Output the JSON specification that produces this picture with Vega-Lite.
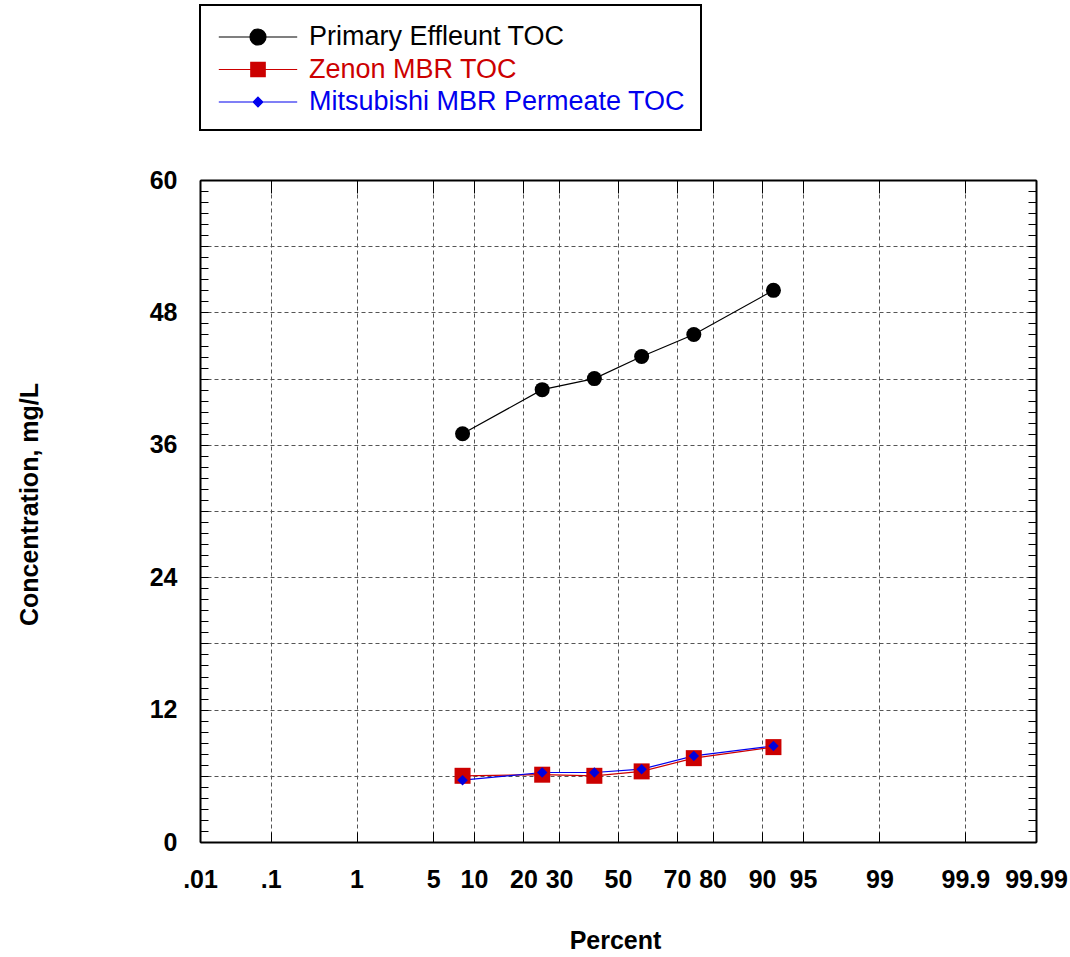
{
  "$schema": "https://vega.github.io/schema/vega-lite/v6.json",
  "width": 836,
  "height": 662,
  "autosize": {"type": "none"},
  "padding": {"left": 200, "top": 180, "right": 34, "bottom": 115},
  "background": "white",
  "config": {
    "font": "Liberation Sans",
    "view": {"stroke": null},
    "axis": {
      "domainColor": "black",
      "domainWidth": 2,
      "tickColor": "black",
      "tickWidth": 1,
      "labelColor": "black",
      "titleColor": "black",
      "gridColor": "#555555",
      "gridDash": [4, 3],
      "gridWidth": 1
    }
  },
  "data": {
    "values": [
      {"series": "Primary Effleunt TOC", "percent": 8.33, "z": -1.383, "toc": 37},
      {"series": "Primary Effleunt TOC", "percent": 25, "z": -0.6745, "toc": 41},
      {"series": "Primary Effleunt TOC", "percent": 41.67, "z": -0.2104, "toc": 42},
      {"series": "Primary Effleunt TOC", "percent": 58.33, "z": 0.2104, "toc": 44},
      {"series": "Primary Effleunt TOC", "percent": 75, "z": 0.6745, "toc": 46},
      {"series": "Primary Effleunt TOC", "percent": 91.67, "z": 1.383, "toc": 50},
      {"series": "Zenon MBR TOC", "percent": 8.33, "z": -1.383, "toc": 6.0},
      {"series": "Zenon MBR TOC", "percent": 25, "z": -0.6745, "toc": 6.1},
      {"series": "Zenon MBR TOC", "percent": 41.67, "z": -0.2104, "toc": 6.0},
      {"series": "Zenon MBR TOC", "percent": 58.33, "z": 0.2104, "toc": 6.4},
      {"series": "Zenon MBR TOC", "percent": 75, "z": 0.6745, "toc": 7.6},
      {"series": "Zenon MBR TOC", "percent": 91.67, "z": 1.383, "toc": 8.6},
      {"series": "Mitsubishi MBR Permeate TOC", "percent": 8.33, "z": -1.383, "toc": 5.6},
      {"series": "Mitsubishi MBR Permeate TOC", "percent": 25, "z": -0.6745, "toc": 6.3},
      {"series": "Mitsubishi MBR Permeate TOC", "percent": 41.67, "z": -0.2104, "toc": 6.3},
      {"series": "Mitsubishi MBR Permeate TOC", "percent": 58.33, "z": 0.2104, "toc": 6.6},
      {"series": "Mitsubishi MBR Permeate TOC", "percent": 75, "z": 0.6745, "toc": 7.8},
      {"series": "Mitsubishi MBR Permeate TOC", "percent": 91.67, "z": 1.383, "toc": 8.7}
    ]
  },
  "layer": [
    {
      "mark": {"type": "line", "strokeWidth": 1.2},
      "encoding": {
        "x": {
          "field": "z",
          "type": "quantitative",
          "scale": {"domain": [-3.719, 3.719], "nice": false, "zero": false},
          "axis": {
            "orient": "bottom",
            "values": [-3.719, -3.0902, -2.3263, -1.6449, -1.2816, -0.8416, -0.5244, 0, 0.5244, 0.8416, 1.2816, 1.6449, 2.3263, 3.0902, 3.719],
            "labelExpr": "datum.value < -3.4 ? '.01' : datum.value < -2.7 ? '.1' : datum.value < -2 ? '1' : datum.value < -1.5 ? '5' : datum.value < -1 ? '10' : datum.value < -0.7 ? '20' : datum.value < -0.3 ? '30' : datum.value < 0.3 ? '50' : datum.value < 0.7 ? '70' : datum.value < 1 ? '80' : datum.value < 1.5 ? '90' : datum.value < 2 ? '95' : datum.value < 2.7 ? '99' : datum.value < 3.4 ? '99.9' : '99.99'",
            "labelFlush": false,
            "labelOverlap": false,
            "labelBound": false,
            "labelFontSize": 25,
            "labelFontWeight": "bold",
            "labelPadding": 35,
            "tickSize": -10,
            "grid": true,
            "title": "Percent",
            "titleFontSize": 25,
            "titleFontWeight": "bold",
            "titleX": 415,
            "titleY": 106,
            "titleBaseline": "alphabetic"
          }
        },
        "y": {
          "field": "toc",
          "type": "quantitative",
          "scale": {"domain": [0, 60], "nice": false, "zero": true},
          "axis": {
            "orient": "left",
            "values": [0,1,2,3,4,5,6,7,8,9,10,11,12,13,14,15,16,17,18,19,20,21,22,23,24,25,26,27,28,29,30,31,32,33,34,35,36,37,38,39,40,41,42,43,44,45,46,47,48,49,50,51,52,53,54,55,56,57,58,59,60],
            "labelExpr": "datum.value % 12 === 0 ? datum.label : ''",
            "labelOverlap": false,
            "labelBound": false,
            "labelFontSize": 25,
            "labelFontWeight": "bold",
            "labelPadding": 31,
            "tickSize": -8,
            "grid": true,
            "gridOpacity": {"condition": {"test": "datum.value % 6 === 0", "value": 1}, "value": 0},
            "title": "Concentration, mg/L",
            "titleFontSize": 25,
            "titleFontWeight": "bold",
            "titleX": -163,
            "titleY": 324,
            "titleBaseline": "alphabetic"
          }
        },
        "color": {
          "field": "series",
          "type": "nominal",
          "scale": {
            "domain": ["Primary Effleunt TOC", "Zenon MBR TOC", "Mitsubishi MBR Permeate TOC"],
            "range": ["#000000", "#CC0000", "#0000EE"]
          },
          "legend": {
            "orient": "none",
            "legendX": 0,
            "legendY": -175,
            "title": null,
            "labelFontSize": 27,
            "labelFont": "Liberation Sans",
            "labelLimit": 1000,
            "symbolSize": 576,
            "padding": 15,
            "rowPadding": 2.5,
            "labelOffset": 60,
            "strokeColor": "black",
            "fillColor": "white",
            "encode": {
              "legend": {"update": {"strokeWidth": {"value": 2}}},
              "symbols": {
                "update": {
                  "shape": {"signal": "datum.value === 'Primary Effleunt TOC' ? 'M-2.45,0H2.45M0.5,0A0.5,0.5,0,1,1,-0.5,0A0.5,0.5,0,1,1,0.5,0Z' : datum.value === 'Zenon MBR TOC' ? 'M-2.45,0H2.45M-0.45,-0.45H0.45V0.45H-0.45Z' : 'M-2.45,0H2.45M0,-0.3L0.3,0L0,0.3L-0.3,0Z'"},
                  "size": {"value": 1024},
                  "x": {"value": 43},
                  "fill": {"scale": "color", "field": "value"},
                  "stroke": {"scale": "color", "field": "value"},
                  "strokeWidth": {"value": 1.2},
                  "opacity": {"value": 1}
                }
              },
              "labels": {
                "update": {"fill": {"scale": "color", "field": "value"}}
              }
            }
          }
        }
      }
    },
    {
      "transform": [{"filter": "datum.series === 'Primary Effleunt TOC'"}],
      "mark": {"type": "point", "filled": true, "opacity": 1, "strokeWidth": 0, "shape": "circle", "size": 225, "color": "#000000"},
      "encoding": {
        "x": {
          "field": "z",
          "type": "quantitative",
          "axis": {
            "orient": "top",
            "values": [-3.719, -3.0902, -2.3263, -1.6449, -1.2816, -0.8416, -0.5244, 0, 0.5244, 0.8416, 1.2816, 1.6449, 2.3263, 3.0902, 3.719],
            "labels": false,
            "tickSize": -13,
            "grid": false,
            "title": null
          }
        },
        "y": {
          "field": "toc",
          "type": "quantitative",
          "axis": {
            "orient": "right",
            "values": [0,1,2,3,4,5,6,7,8,9,10,11,12,13,14,15,16,17,18,19,20,21,22,23,24,25,26,27,28,29,30,31,32,33,34,35,36,37,38,39,40,41,42,43,44,45,46,47,48,49,50,51,52,53,54,55,56,57,58,59,60],
            "labels": false,
            "tickSize": -8,
            "grid": false,
            "title": null
          }
        }
      }
    },
    {
      "transform": [{"filter": "datum.series === 'Zenon MBR TOC'"}],
      "mark": {"type": "point", "filled": true, "opacity": 1, "strokeWidth": 0, "shape": "square", "size": 256, "color": "#CC0000"},
      "encoding": {
        "x": {"field": "z", "type": "quantitative", "axis": null},
        "y": {"field": "toc", "type": "quantitative", "axis": null}
      }
    },
    {
      "transform": [{"filter": "datum.series === 'Mitsubishi MBR Permeate TOC'"}],
      "mark": {"type": "point", "filled": true, "opacity": 1, "strokeWidth": 0, "shape": "diamond", "size": 110, "color": "#0000DD"},
      "encoding": {
        "x": {"field": "z", "type": "quantitative", "axis": null},
        "y": {"field": "toc", "type": "quantitative", "axis": null}
      }
    }
  ],
  "resolve": {"axis": {"x": "independent", "y": "independent"}}
}
